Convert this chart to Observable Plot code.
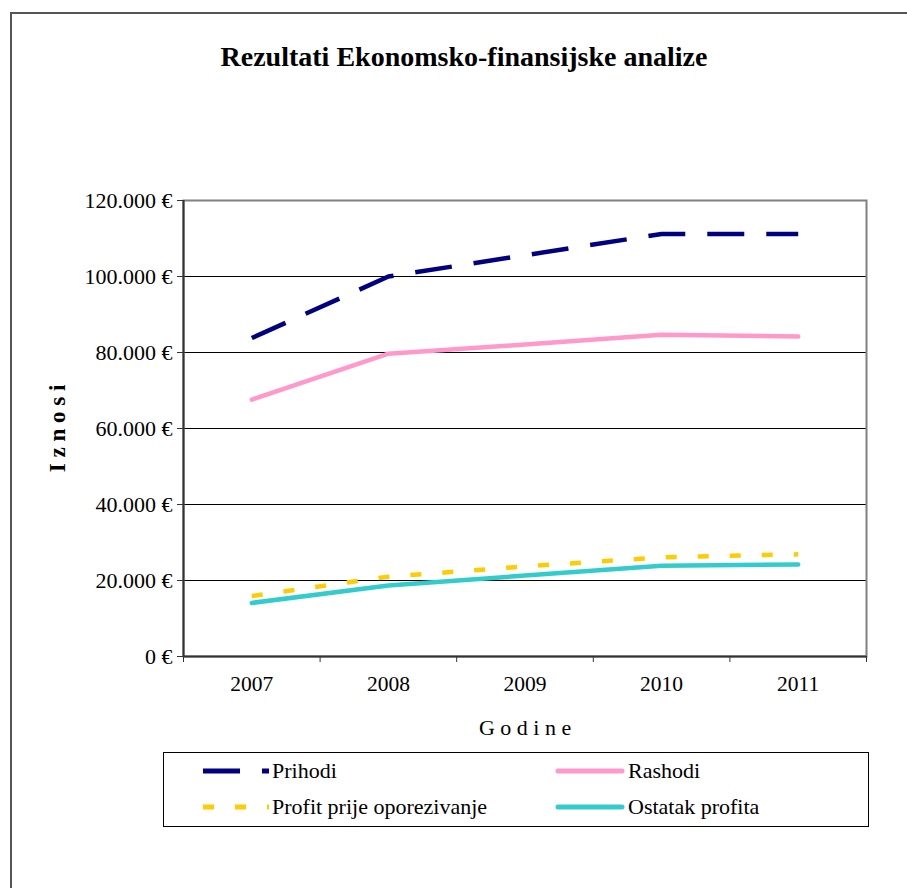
<!DOCTYPE html>
<html>
<head>
<meta charset="utf-8">
<script src="https://cdn.jsdelivr.net/npm/d3@7"></script>
<script src="https://cdn.jsdelivr.net/npm/@observablehq/plot@0.6"></script>
<style>
  html, body { margin: 0; padding: 0; background: #fff; }
  body { width: 907px; height: 888px; position: relative; overflow: hidden;
         font-family: "Liberation Serif", "Times New Roman", serif; color: #000; }
  #frame { position: absolute; left: 10px; top: 12px; width: 960px; height: 960px;
           border-left: 2px solid #555; border-top: 2px solid #555; box-sizing: border-box; }
  #title { position: absolute; left: 0; top: 43px; width: 928px; text-align: center;
           font-family: "Liberation Serif", "Times New Roman", serif;
           font-size: 28px; font-weight: bold; line-height: 28px; }
  #chart { position: absolute; left: 0; top: 0; }
  #legend { position: absolute; left: 163px; top: 752px; width: 706px; height: 75px;
            border: 1px solid #000; box-sizing: border-box; background: #fff;
            font-family: "Liberation Serif", "Times New Roman", serif; }
  .item { position: absolute; height: 24px; display: flex; align-items: center; font-size: 22px;
          font-family: "Liberation Serif", "Times New Roman", serif; }
  .item svg { display: block; margin-right: 3px; }
</style>
</head>
<body>
<div id="frame"></div>
<div id="title">Rezultati Ekonomsko-finansijske analize</div>
<div id="chart"></div>
<div id="legend"></div>
<script>
// ---- data ----
const years = [2007, 2008, 2009, 2010, 2011];
const prihodi = [83800, 100000, 105600, 111200, 111200];
const rashodi = [67600, 79700, 82100, 84700, 84200];
const profit  = [15900, 21000, 23700, 26100, 26900];
const ostatak = [14100, 18700, 21300, 23900, 24200];
const seriesNames = ["Prihodi", "Rashodi", "Profit prije oporezivanje", "Ostatak profita"];
const yTicks = [0, 20000, 40000, 60000, 80000, 100000, 120000];
const xTitle = "G o d i n e";
const yTitle = "I z n o s i";

// ---- styles ----
const styles = {
  "Prihodi": {color: "#000080", dash: "37,22", cap: "butt"},
  "Rashodi": {color: "#FF99CC", dash: null, cap: "round"},
  "Profit prije oporezivanje": {color: "#FFCC00", dash: "11,21", cap: "butt"},
  "Ostatak profita": {color: "#33CCCC", dash: null, cap: "round"}
};
const valuesByName = {
  "Prihodi": prihodi, "Rashodi": rashodi,
  "Profit prije oporezivanje": profit, "Ostatak profita": ostatak
};
const table = seriesNames.flatMap(name =>
  years.map((yr, i) => ({name, year: yr, value: valuesByName[name][i]})));

const xDomain = [years[0] - 0.5, years[years.length - 1] + 0.5];
const bounds = [...years.map(y => y - 0.5), years[years.length - 1] + 0.5];

const locale = d3.formatLocale({decimal: ",", thousands: ".", grouping: [3], currency: ["", " €"]});
const fmt = locale.format("$,.0f");

const font = "Liberation Serif, Times New Roman, serif";

const plot = Plot.plot({
  width: 907,
  height: 760,
  marginTop: 200,
  marginBottom: 104,
  marginLeft: 183,
  marginRight: 41,
  style: {fontFamily: font, background: "transparent", color: "#000", overflow: "visible"},
  x: {type: "linear", domain: xDomain},
  y: {domain: [0, 120000]},
  marks: [
    Plot.gridY(yTicks, {stroke: "#000", strokeOpacity: 1, strokeWidth: 1}),
    Plot.frame({stroke: "#808080", strokeWidth: 2}),
    Plot.ruleX([xDomain[0]], {stroke: "#333", strokeWidth: 2}),
    Plot.ruleY([0], {stroke: "#333", strokeWidth: 2}),
    Plot.axisY(yTicks, {tickSize: 6, tickPadding: 5, tickFormat: fmt, fontSize: 22, label: null, stroke: "#333"}),
    Plot.axisX(bounds, {tickSize: 6, tickFormat: () => "", label: null, stroke: "#333"}),
    Plot.axisX(years, {tickSize: 0, tickPadding: 19, tickFormat: d => String(d), fontSize: 21.5, label: null}),
    ...seriesNames.map(name => Plot.line(table.filter(d => d.name === name), {
      x: "year", y: "value",
      stroke: styles[name].color, strokeWidth: 4.5,
      strokeDasharray: styles[name].dash, strokeLinecap: styles[name].cap, strokeLinejoin: "round"
    })),
    Plot.text([xTitle], {frameAnchor: "bottom", dy: 71, fontSize: 22, textAnchor: "middle", lineAnchor: "middle", text: d => d}),
    Plot.text([yTitle], {frameAnchor: "left", dx: -126, rotate: -90, fontSize: 23, fontWeight: "bold", textAnchor: "middle", lineAnchor: "middle", text: d => d})
  ]
});
document.getElementById("chart").appendChild(plot);

// ---- legend ----
const legend = document.getElementById("legend");
const legendPos = [
  {left: 39, top: 6}, {left: 391, top: 6}, {left: 39, top: 42}, {left: 391, top: 42}
];
const swatchW = {"Prihodi": 66, "Rashodi": 70, "Profit prije oporezivanje": 66, "Ostatak profita": 70};
seriesNames.forEach((name, i) => {
  const s = styles[name];
  const el = document.createElement("div");
  el.className = "item";
  el.style.left = legendPos[i].left + "px";
  el.style.top = legendPos[i].top + "px";
  const w = swatchW[name];
  const pad = s.cap === "round" ? 3 : 0;
  el.innerHTML = `<svg width="${w}" height="12"><line x1="${pad}" x2="${w - pad}" y1="6" y2="6" stroke="${s.color}" stroke-width="5" stroke-linecap="${s.cap}" ${s.dash ? `stroke-dasharray="${s.dash}"` : ""}/></svg><span>${name}</span>`;
  legend.appendChild(el);
});
</script>
</body>
</html>
